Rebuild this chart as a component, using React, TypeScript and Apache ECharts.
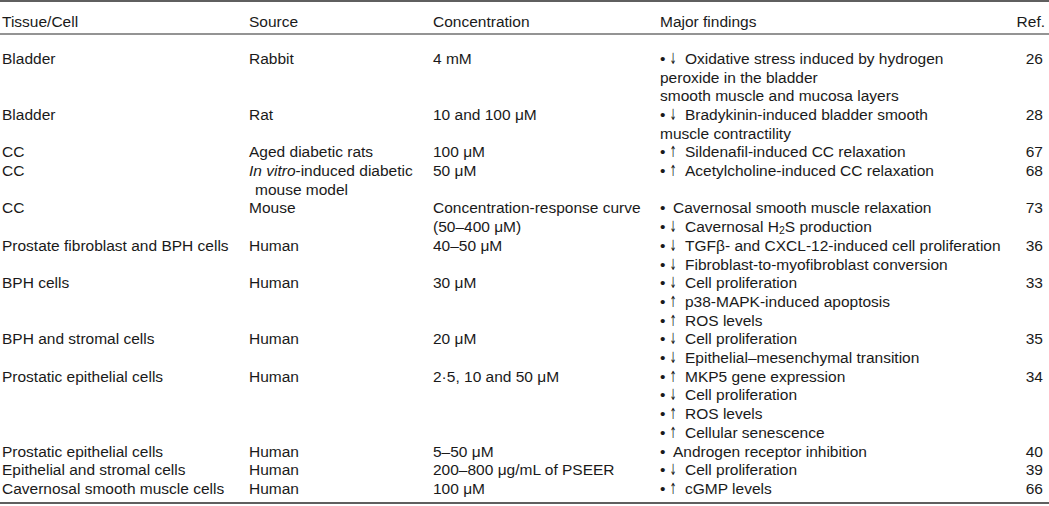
import React, { useEffect, useRef } from "react";
import * as echarts from "echarts";

const headers = ["Tissue/Cell", "Source", "Concentration", "Major findings", "Ref."];

const tissues = [
  "Bladder",
  "Bladder",
  "CC",
  "CC",
  "CC",
  "Prostate fibroblast and BPH cells",
  "BPH cells",
  "BPH and stromal cells",
  "Prostatic epithelial cells",
  "Prostatic epithelial cells",
  "Epithelial and stromal cells",
  "Cavernosal smooth muscle cells",
];

// "{i|...}" marks italic text, a leading ">" marks an indented continuation line
const sources = [
  ["Rabbit"],
  ["Rat"],
  ["Aged diabetic rats"],
  ["{i|In vitro}-induced diabetic", ">mouse model"],
  ["Mouse"],
  ["Human"],
  ["Human"],
  ["Human"],
  ["Human"],
  ["Human"],
  ["Human"],
  ["Human"],
];

const concentrations = [
  ["4 mM"],
  ["10 and 100 μM"],
  ["100 μM"],
  ["50 μM"],
  ["Concentration-response curve", "(50–400 μM)"],
  ["40–50 μM"],
  ["30 μM"],
  ["20 μM"],
  ["2·5, 10 and 50 μM"],
  ["5–50 μM"],
  ["200–800 μg/mL of PSEER"],
  ["100 μM"],
];

// lines starting with "↓ " / "↑ " get a bullet and arrow, "• " a bullet only, others continue
const findings = [
  ["↓ Oxidative stress induced by hydrogen", "peroxide in the bladder", "smooth muscle and mucosa layers"],
  ["↓ Bradykinin-induced bladder smooth", "muscle contractility"],
  ["↑ Sildenafil-induced CC relaxation"],
  ["↑ Acetylcholine-induced CC relaxation"],
  ["• Cavernosal smooth muscle relaxation", "↓ Cavernosal H{sub|2}S production"],
  ["↓ TGFβ- and CXCL-12-induced cell proliferation", "↓ Fibroblast-to-myofibroblast conversion"],
  ["↓ Cell proliferation", "↑ p38-MAPK-induced apoptosis", "↑ ROS levels"],
  ["↓ Cell proliferation", "↓ Epithelial–mesenchymal transition"],
  ["↑ MKP5 gene expression", "↓ Cell proliferation", "↑ ROS levels", "↑ Cellular senescence"],
  ["• Androgen receptor inhibition"],
  ["↓ Cell proliferation"],
  ["↑ cGMP levels"],
];

const refs = ["26", "28", "67", "68", "73", "36", "33", "35", "34", "40", "39", "66"];

const FONT = '"Liberation Sans", Arial, Helvetica, sans-serif';
const FS = 15.5;
const COLOR = "#1a1a1a";
const COL_X = [2, 249, 433, 660];
const BULLET_TEXT_X = 673;
const ARROW_X = 673;
const ARROW_TEXT_X = 685;
const REF_X = 1043;
const HEADER_Y = 21.3;
const FIRST_Y = 58.3;
const LINE_H = 18.7;

const rich = {
  i: { fontFamily: FONT, fontSize: FS, fontStyle: "italic", fill: COLOR },
  sub: { fontFamily: FONT, fontSize: 10.5, fill: COLOR, verticalAlign: "bottom", padding: [6, 0, 0, 0] },
};

function txt(text: string, x: number, y: number, align = "left", extra: any = {}, font = FONT) {
  return {
    type: "text",
    x,
    y,
    silent: true,
    ...extra,
    style: {
      text,
      fontFamily: font,
      fontSize: FS,
      fill: COLOR,
      align,
      textAlign: align,
      verticalAlign: "middle",
      textVerticalAlign: "middle",
      rich,
    },
  };
}

function hline(y: number, w: number) {
  return {
    type: "line",
    silent: true,
    shape: { x1: 0, y1: y, x2: 1049, y2: y },
    style: { stroke: "#2a2a2a", lineWidth: w },
  };
}

function buildGraphic() {
  const els: any[] = [];
  els.push(hline(1, 1.3));
  els.push(hline(34, 1.2));
  els.push(hline(503, 1.3));
  headers.slice(0, 4).forEach((h, i) => els.push(txt(h, COL_X[i], HEADER_Y)));
  els.push(txt(headers[4], REF_X + 2, HEADER_Y, "right"));

  let line = 0;
  tissues.forEach((t, r) => {
    const n = Math.max(sources[r].length, concentrations[r].length, findings[r].length, 1);
    const y0 = FIRST_Y + line * LINE_H;
    els.push(txt(t, COL_X[0], y0));
    sources[r].forEach((s, k) => {
      const indent = s.startsWith(">");
      els.push(txt(indent ? s.slice(1) : s, COL_X[1] + (indent ? 6 : 0), y0 + k * LINE_H));
    });
    concentrations[r].forEach((c, k) => els.push(txt(c, COL_X[2], y0 + k * LINE_H)));
    findings[r].forEach((f, k) => {
      const y = y0 + k * LINE_H;
      if (f.startsWith("↓ ") || f.startsWith("↑ ")) {
        els.push(txt("•", COL_X[3], y));
        els.push(txt(f[0], ARROW_X, y, "center", { scaleX: 0.55 }, '"DejaVu Sans", sans-serif'));
        els.push(txt(f.slice(2), ARROW_TEXT_X, y));
      } else if (f.startsWith("• ")) {
        els.push(txt("•", COL_X[3], y));
        els.push(txt(f.slice(2), BULLET_TEXT_X, y));
      } else {
        els.push(txt(f, COL_X[3], y));
      }
    });
    els.push(txt(refs[r], REF_X, y0, "right"));
    line += n;
  });
  return els;
}

export default function App() {
  const ref = useRef<HTMLDivElement>(null);
  useEffect(() => {
    document.body.style.margin = "0";
    const chart = echarts.init(ref.current!, undefined, { renderer: "svg" });
    chart.setOption({
      animation: false,
      backgroundColor: "#ffffff",
      graphic: { elements: buildGraphic() },
    });
    return () => chart.dispose();
  }, []);
  return (
    <div
      ref={ref}
      style={{ position: "absolute", left: 0, top: 0, width: 1049, height: 506, background: "#fff" }}
    />
  );
}
